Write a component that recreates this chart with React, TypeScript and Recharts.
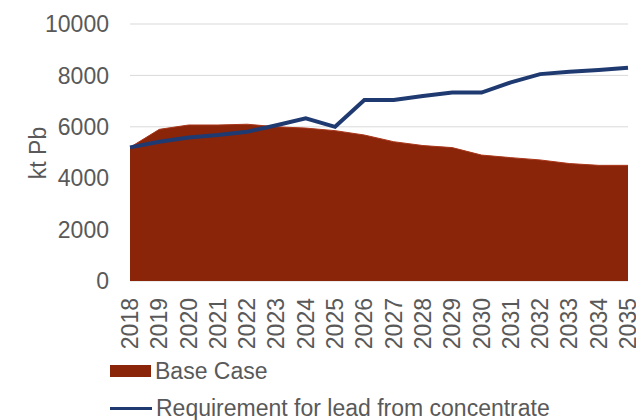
import { ComposedChart, Area, Line, XAxis, YAxis, CartesianGrid, Label } from "recharts";

const years = [
  "2018", "2019", "2020", "2021", "2022", "2023", "2024", "2025", "2026",
  "2027", "2028", "2029", "2030", "2031", "2032", "2033", "2034", "2035",
];
const baseCase = [5200, 5900, 6070, 6070, 6100, 6000, 5950, 5850, 5680, 5420, 5270, 5190, 4900, 4800, 4710, 4570, 4500, 4500];
const requirement = [5200, 5420, 5580, 5680, 5810, 6060, 6330, 6000, 7040, 7040, 7200, 7330, 7330, 7730, 8050, 8140, 8210, 8300];
const yTicks = [0, 2000, 4000, 6000, 8000, 10000];

const rows = years.map((y, i) => ({ year: y, base: baseCase[i], req: requirement[i] }));

const FONT = "'Liberation Sans', Arial, sans-serif";
const GRAY = "#595959";
const RED = "#8B250A";
const NAVY = "#1F3A70";
const FS = 23;

function YearTick(props: any) {
  const { x, y, payload } = props;
  const ty = y + 9;
  return (
    <text
      x={x}
      y={ty}
      transform={`rotate(-90 ${x} ${ty})`}
      textAnchor="end"
      dominantBaseline="central"
      fill={GRAY}
      fontSize={FS}
      fontFamily={FONT}
    >
      {payload.value}
    </text>
  );
}

function LegendBox() {
  return (
    <div
      style={{
        position: "absolute", left: 110, top: 359,
        fontFamily: FONT, fontSize: FS, color: GRAY, lineHeight: "23px", whiteSpace: "nowrap",
      }}
    >
      <div style={{ display: "flex", alignItems: "center", height: 24 }}>
        <span style={{ display: "inline-block", width: 41, height: 12, background: RED, marginRight: 4 }} />
        Base Case
      </div>
      <div style={{ display: "flex", alignItems: "center", height: 24, marginTop: 13 }}>
        <span style={{ display: "inline-block", width: 42, height: 3, background: NAVY, marginRight: 4 }} />
        Requirement for lead from concentrate
      </div>
    </div>
  );
}

export default function App() {
  return (
    <div style={{ position: "fixed", left: 0, top: 0, width: 636, height: 420, background: "#fff", overflow: "hidden" }}>
      <ComposedChart width={636} height={420} data={rows} margin={{ top: 24, right: 8, bottom: 79, left: 0 }}>
        <CartesianGrid vertical={false} stroke="#d9d9d9" strokeWidth={1} />
        <XAxis
          dataKey="year"
          scale="point"
          interval={0}
          tickLine={false}
          axisLine={false}
          tick={<YearTick />}
          height={60}
        />
        <YAxis
          width={130}
          domain={[0, 10000]}
          ticks={yTicks}
          interval={0}
          tickLine={false}
          axisLine={false}
          tickMargin={15}
          tick={{ fill: GRAY, fontSize: FS, fontFamily: FONT }}
        >
          <Label
            content={() => (
              <text
                x={38}
                y={153}
                transform="rotate(-90 38 153)"
                textAnchor="middle"
                dominantBaseline="central"
                fill={GRAY}
                fontSize={FS}
                fontFamily={FONT}
              >
                kt Pb
              </text>
            )}
          />
        </YAxis>
        <Area
          type="linear"
          dataKey="base"
          name="Base Case"
          fill={RED}
          fillOpacity={1}
          stroke="#a8361a"
          strokeWidth={1}
          isAnimationActive={false}
        />
        <Line
          type="linear"
          dataKey="req"
          name="Requirement for lead from concentrate"
          stroke={NAVY}
          strokeWidth={4}
          dot={false}
          isAnimationActive={false}
        />
      </ComposedChart>
      <LegendBox />
    </div>
  );
}
